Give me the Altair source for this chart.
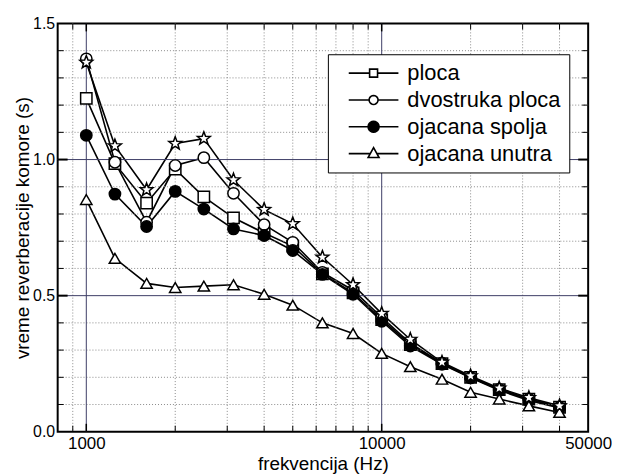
import math
import altair as alt
import pandas as pd

# third-octave band centre frequencies (Hz)
FREQ = [1000, 1250, 1600, 2000, 2500, 3150, 4000, 5000, 6300, 8000,
        10000, 12500, 16000, 20000, 25000, 31500, 40000]

# reverberation time of the chamber (s)
PLOCA = [1.225, 0.985, 0.84, 0.965, 0.863, 0.786, 0.73, 0.682, 0.58, 0.51,
         0.412, 0.32, 0.25, 0.2, 0.155, 0.12, 0.09]
DVOSTRUKA = [1.37, 0.99, 0.77, 0.978, 1.007, 0.876, 0.761, 0.696, 0.585, 0.52,
             0.42, 0.325, 0.252, 0.2, 0.156, 0.12, 0.09]
SPOLJA = [1.089, 0.873, 0.754, 0.883, 0.818, 0.745, 0.721, 0.666, 0.578, 0.505,
          0.406, 0.315, 0.248, 0.198, 0.152, 0.115, 0.087]
UNUTRA = [0.853, 0.637, 0.545, 0.53, 0.535, 0.54, 0.505, 0.465, 0.40, 0.361,
          0.288, 0.239, 0.193, 0.145, 0.12, 0.095, 0.071]
ZVEZDA = [1.357, 1.05, 0.889, 1.059, 1.077, 0.925, 0.816, 0.764, 0.641, 0.54,
          0.434, 0.339, 0.255, 0.205, 0.16, 0.125, 0.095]

SERIES = ["ploca", "dvostruka ploca", "ojacana spolja", "ojacana unutra", "bez oznake"]
LEGEND_SERIES = SERIES[:4]
STAR = ("M0,-1.2L0.3,-0.41L1.14,-0.37L0.48,0.16L0.71,0.97L0,0.5L-0.71,0.97"
        "L-0.48,0.16L-1.14,-0.37L-0.3,-0.41Z")
SHAPES = ["square", "circle", "circle", "triangle-up", STAR]
FILLS = ["white", "white", "black", "white", "white"]
STROKES = ["black"] * 5

X_LABELS = [1000, 10000, 50000]
X_MINOR = [900, 2000, 3000, 4000, 5000, 6000, 7000, 8000, 9000, 20000, 30000, 40000]
X_MAJOR = [1000, 10000]
Y_LABELS = [0.0, 0.5, 1.0, 1.5]
Y_MINOR = [0.1, 0.2, 0.3, 0.4, 0.6, 0.7, 0.8, 0.9, 1.1, 1.2, 1.3, 1.4]
Y_MAJOR = [0.5, 1.0]

rows = []
for name, vals in zip(SERIES, [PLOCA, DVOSTRUKA, SPOLJA, UNUTRA, ZVEZDA]):
    for f, v in zip(FREQ, vals):
        rows.append({"freq": f, "value": v, "series": name})
df = pd.DataFrame(rows)

W, H = 534, 411
XMIN, XMAX, YMIN, YMAX = 800, 50000, 0.0, 1.5
xs = alt.Scale(type="log", domain=[XMIN, XMAX], nice=False)
ys = alt.Scale(domain=[YMIN, YMAX], nice=False)

GRID_MINOR = "#8a8a8a"
GRID_MAJOR = "#3d3d66"


def vdf(values):
    return pd.DataFrame({"v": values})


def xgrid(values, color, dash):
    m = alt.Chart(vdf(values)).mark_rule(color=color, strokeWidth=1, strokeDash=dash) \
        if dash else alt.Chart(vdf(values)).mark_rule(color=color, strokeWidth=1)
    return m.encode(x=alt.X("v:Q", scale=xs))


def ygrid(values, color, dash):
    m = alt.Chart(vdf(values)).mark_rule(color=color, strokeWidth=1, strokeDash=dash) \
        if dash else alt.Chart(vdf(values)).mark_rule(color=color, strokeWidth=1)
    return m.encode(y=alt.Y("v:Q", scale=ys))


def xticks(values, at, size, thick, sign):
    return alt.Chart(vdf(values)).mark_tick(
        orient="vertical", size=size, thickness=thick, color="black", opacity=1,
        yOffset=sign * size / 2).encode(
        x=alt.X("v:Q", scale=xs), y=alt.Y(datum=at, scale=ys))


def yticks(values, at, size, thick, sign):
    return alt.Chart(vdf(values)).mark_tick(
        orient="horizontal", size=size, thickness=thick, color="black", opacity=1,
        xOffset=sign * size / 2).encode(
        y=alt.Y("v:Q", scale=ys), x=alt.X(datum=at, scale=xs))


grid_layers = [
    xgrid(X_MINOR, GRID_MINOR, [1, 2]),
    ygrid(Y_MINOR, GRID_MINOR, [1, 2]),
    xgrid(X_MAJOR, GRID_MAJOR, None),
    ygrid(Y_MAJOR, GRID_MAJOR, None),
]
tick_layers = [
    xticks(X_MINOR, YMIN, 6, 1, -1), xticks(X_MAJOR, YMIN, 8, 1.5, -1),
    xticks(X_MINOR, YMAX, 6, 1, 1), xticks(X_MAJOR, YMAX, 8, 1.5, 1),
    yticks(Y_MINOR, XMIN, 6, 1, 1), yticks(Y_MAJOR, XMIN, 10, 2, 1),
    yticks(Y_MINOR, XMAX, 6, 1, -1), yticks(Y_MAJOR, XMAX, 10, 2, -1),
]

ax = alt.Axis(orient="bottom", values=X_LABELS, format="d", labelFontSize=17, labelPadding=4,
              labelFlush=False, title="frekvencija (Hz)", titleFontSize=19,
              titlePadding=3, ticks=False, grid=False, domain=False, zindex=1)
ay = alt.Axis(orient="left", values=Y_LABELS, format=".1f", labelFontSize=16, labelPadding=3,
              title="vreme reverberacije komore (s)", titleFontSize=19,
              titlePadding=0, ticks=False, grid=False, domain=False, zindex=1)

base = alt.Chart(df)

# first layer carries the labelled axes; other layers leave the axis unspecified
lines = base.mark_line(color="black", strokeWidth=1.6).encode(
    x=alt.X("freq:Q", scale=xs, axis=ax),
    y=alt.Y("value:Q", scale=ys, axis=ay),
    detail="series:N")

points = base.mark_point(filled=True, opacity=1, strokeWidth=1.5, size=130).encode(
    x=alt.X("freq:Q", scale=xs),
    y=alt.Y("value:Q", scale=ys),
    shape=alt.Shape("series:N", scale=alt.Scale(domain=SERIES, range=SHAPES), legend=None),
    fill=alt.Fill("series:N", scale=alt.Scale(domain=SERIES, range=FILLS), legend=None),
    stroke=alt.Stroke("series:N", scale=alt.Scale(domain=SERIES, range=STROKES), legend=None),
)


# legend symbols: a line segment with the marker on it (path unit = sqrt(symbolSize)/2 px)
def ring(cx, r, n=20):
    pts = [(cx + r * math.cos(2 * math.pi * k / n), r * math.sin(2 * math.pi * k / n))
           for k in range(n)]
    return "M" + "L".join(f"{x:.3f},{y:.3f}" for x, y in pts) + "Z"


MX = 0.6
P_SQ = f"M-4.4,0L{MX-0.8},0M{MX+0.8},0L5.6,0M{MX-0.8},-0.8L{MX+0.8},-0.8L{MX+0.8},0.8L{MX-0.8},0.8Z"
P_CI = f"M-4.4,0L{MX-0.9},0M{MX+0.9},0L5.6,0" + ring(MX, 0.9)
P_FC = f"M-4.4,0L{MX-1.1},0M{MX+1.1},0L5.6,0" + ring(MX, 1.1)
P_TR = f"M-4.4,0L{MX-0.66},0M{MX+0.66},0L5.6,0M{MX},-1.2L{MX+1.1},0.8L{MX-1.1},0.8Z"
LEGEND_PATHS = [P_SQ, P_CI, P_FC, P_TR]


def make_legend():
    return alt.Legend(
        orient="none", legendX=272, legendY=31, title=None, values=LEGEND_SERIES,
        labelFontSize=22, labelColor="black", labelOffset=26, rowPadding=5, padding=8,
        strokeColor="black", fillColor="white", symbolSize=100, symbolStrokeWidth=1.6,
        symbolOffset=24, labelExpr="datum.label + '  '",
    )


legend_layer = base.transform_filter("datum.value > 5").mark_point(
    filled=True, opacity=1, strokeWidth=1.6).encode(
    x=alt.X("freq:Q", scale=xs),
    y=alt.Y("value:Q", scale=ys),
    shape=alt.Shape("series:N", scale=alt.Scale(domain=LEGEND_SERIES, range=LEGEND_PATHS),
                    legend=make_legend()),
    fill=alt.Fill("series:N", scale=alt.Scale(domain=LEGEND_SERIES, range=FILLS[:4]),
                  legend=make_legend()),
    stroke=alt.Stroke("series:N", scale=alt.Scale(domain=LEGEND_SERIES, range=STROKES[:4]),
                      legend=make_legend()),
)

chart = alt.layer(lines, *grid_layers, *tick_layers, points, legend_layer).resolve_scale(
    shape="independent", fill="independent", stroke="independent"
).properties(
    width=W, height=H,
    autosize=alt.AutoSizeParams(type="none"),
    padding={"left": 50, "top": 14, "right": 24, "bottom": 45},
).configure(font="Liberation Sans").configure_view(
    stroke="black", strokeWidth=2
).configure_axis(labelColor="black", titleColor="black", titleFontWeight="normal")

chart.save("out.html", embed_options={"renderer": "svg", "actions": False})
